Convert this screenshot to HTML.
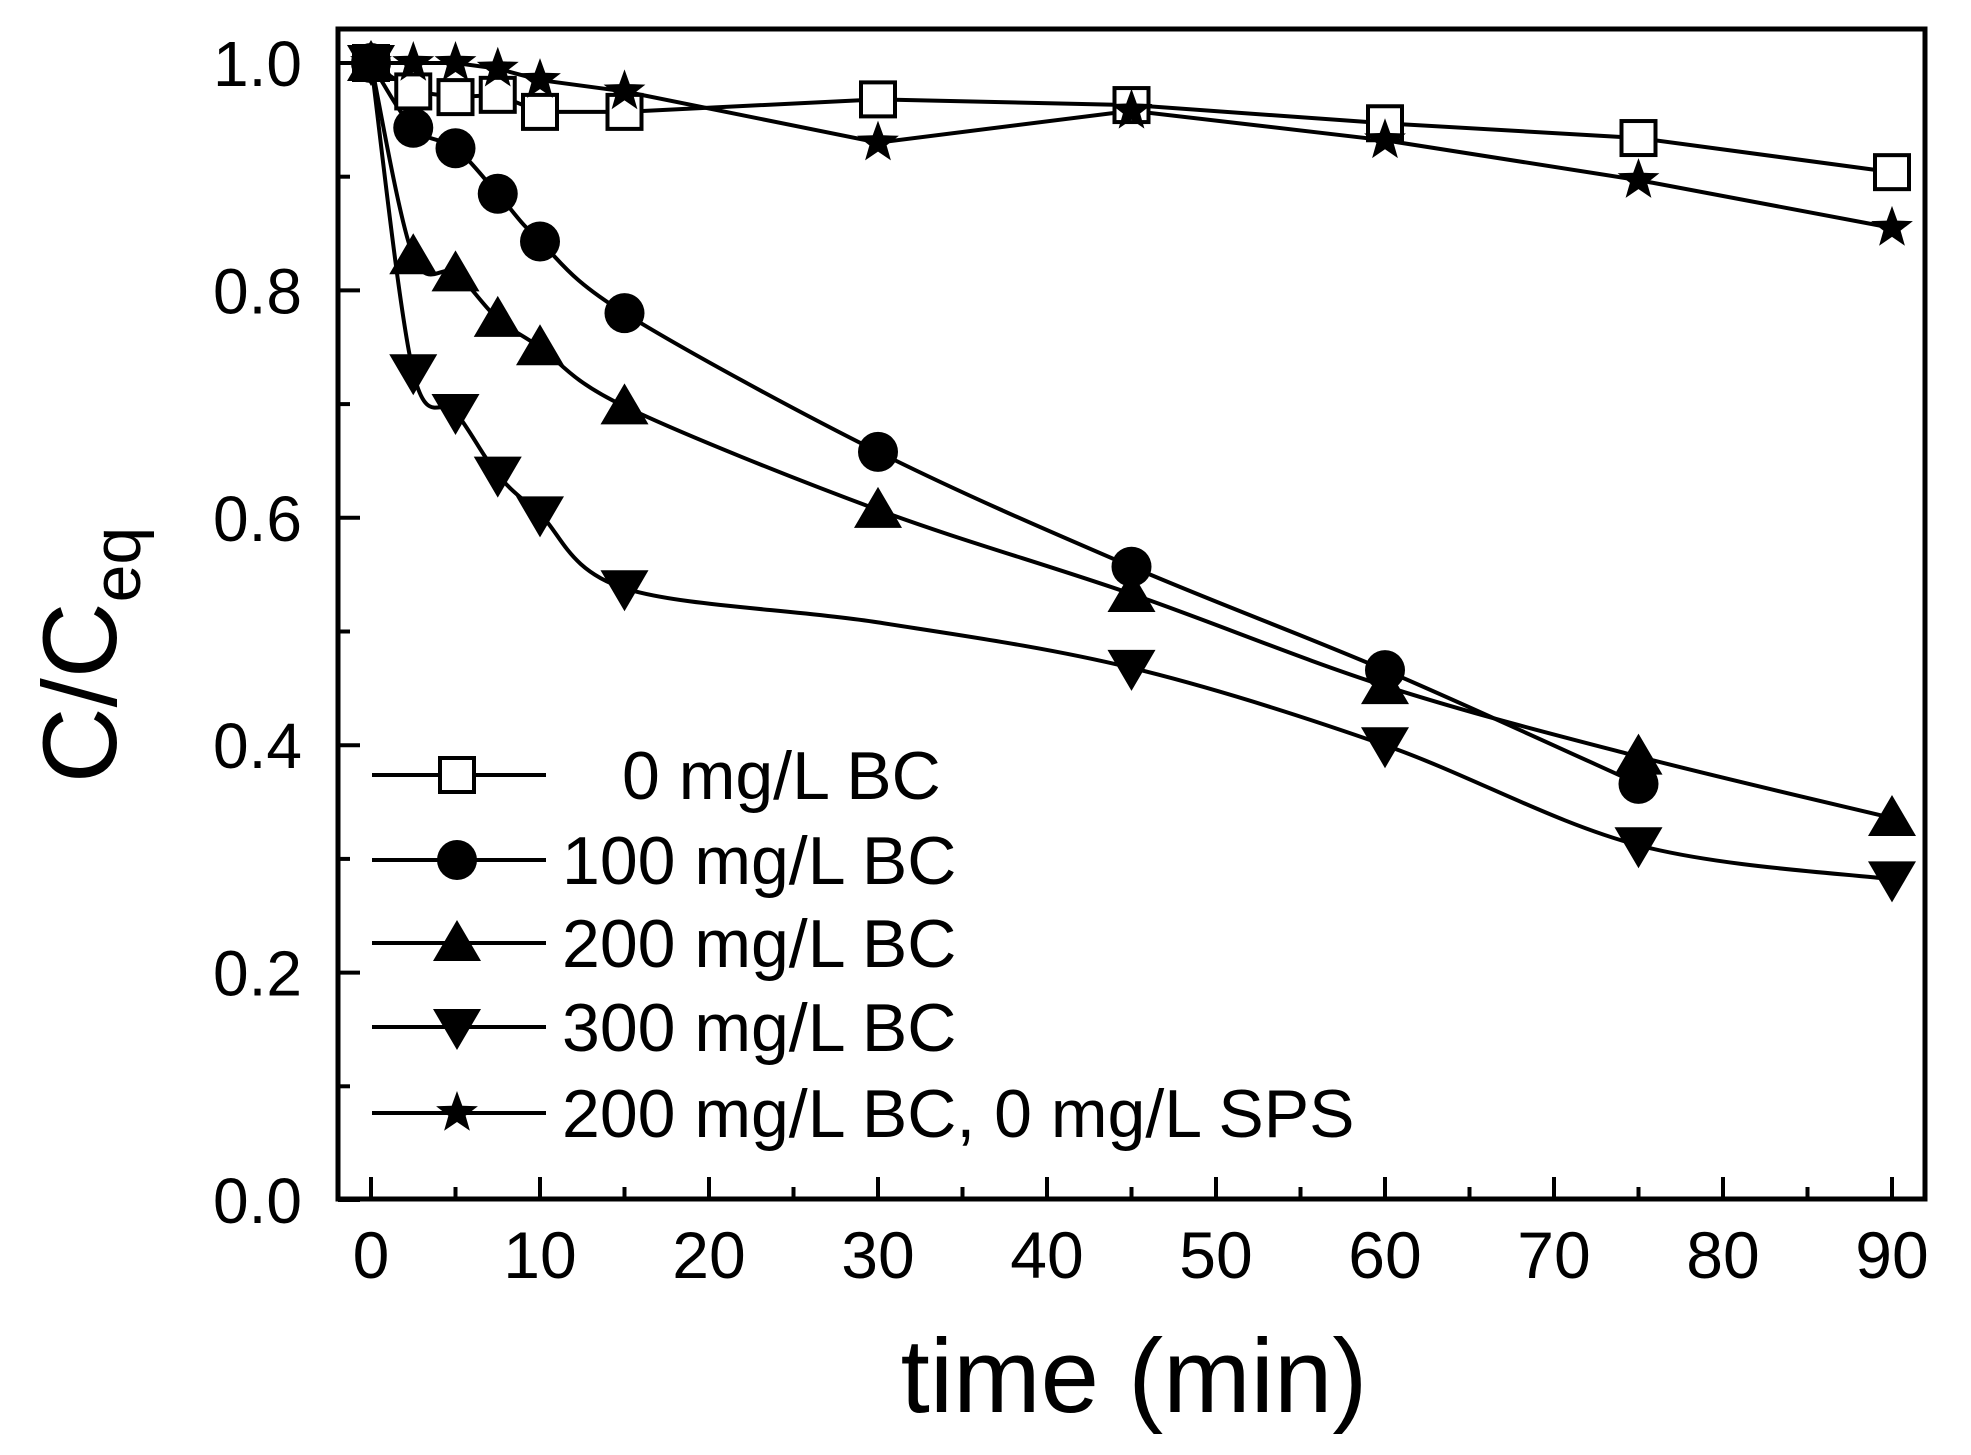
<!DOCTYPE html>
<html><head><meta charset="utf-8"><style>
html,body{margin:0;padding:0;background:#fff;}
svg{display:block;}
text{font-family:"Liberation Sans",sans-serif;fill:#000;}
</style></head><body>
<svg id="s" width="1971" height="1455" xmlns="http://www.w3.org/2000/svg"></svg>
<script>
const S=document.getElementById('s');
const X=t=>371+16.9*t, Y=v=>1200-1137*v;
let h='';
h+='<rect x="338" y="29" width="1587" height="1170" fill="none" stroke="#000" stroke-width="5"/>';
for(let t=0;t<=90;t+=5){const x=X(t),L=t%10==0?22:12;h+=`<line x1="${x}" y1="1199" x2="${x}" y2="${1199-L}" stroke="#000" stroke-width="4"/>`;
 if(t%10==0)h+=`<text x="${x}" y="1278" font-size="66" text-anchor="middle">${t}</text>`;}
for(let i=0;i<=10;i++){const v=i/10,y=Y(v),L=i%2==0?22:12;h+=`<line x1="338" y1="${y}" x2="${338+L}" y2="${y}" stroke="#000" stroke-width="4"/>`;
 if(i%2==0)h+=`<text x="302" y="${y+23}" font-size="64" text-anchor="end">${v.toFixed(1)}</text>`;}
h+='<text x="1134" y="1412" font-size="105" text-anchor="middle">time (min)</text>';
h+='<text transform="translate(116,655) rotate(-90)" font-size="105" text-anchor="middle">C/C<tspan font-size="68" dy="24">eq</tspan></text>';
const T=[0,2.5,5,7.5,10,15,30,45,60,75,90];
const D={
sq:[1,0.975,0.97,0.972,0.957,0.957,0.968,0.963,0.947,0.934,0.904],
ci:[1,0.943,0.925,0.885,0.843,0.78,0.658,0.557,0.466,0.366,null],
up:[1,0.83,0.815,0.775,0.75,0.698,0.607,0.533,0.452,0.39,0.336],
dn:[1,0.728,0.693,0.638,0.603,0.538,null,0.468,0.4,0.312,0.282],
st:[1,1.0,1.0,0.995,0.985,0.975,0.93,0.958,0.932,0.897,0.855]};
function curve(pts,smooth){
 let d=`M${pts[0][0]},${pts[0][1]}`;
 for(let i=0;i<pts.length-1;i++){
  const p0=pts[Math.max(i-1,0)],p1=pts[i],p2=pts[i+1],p3=pts[Math.min(i+2,pts.length-1)];
  if(!smooth){d+=` L${p2[0]},${p2[1]}`;continue;}
  const k=6;
  d+=` C${p1[0]+(p2[0]-p0[0])/k},${p1[1]+(p2[1]-p0[1])/k} ${p2[0]-(p3[0]-p1[0])/k},${p2[1]-(p3[1]-p1[1])/k} ${p2[0]},${p2[1]}`;}
 return d;}
function mk(type,x,y){
 if(type=='sq')return `<rect x="${x-17}" y="${y-17}" width="34" height="34" fill="#fff" stroke="#000" stroke-width="4"/>`;
 if(type=='ci')return `<circle cx="${x}" cy="${y}" r="20" fill="#000"/>`;
 if(type=='up')return `<polygon points="${x},${y-23} ${x+24},${y+18} ${x-24},${y+18}" fill="#000"/>`;
 if(type=='dn')return `<polygon points="${x},${y+23} ${x+24},${y-18} ${x-24},${y-18}" fill="#000"/>`;
 if(type=='st'){let p=[];for(let i=0;i<10;i++){const r=i%2?9:22,a=-Math.PI/2+i*Math.PI/5;p.push((x+r*Math.cos(a)).toFixed(1)+','+(y+r*Math.sin(a)).toFixed(1));}return `<polygon points="${p.join(' ')}" fill="#000"/>`;}
}
const sm={sq:false,ci:true,up:true,dn:true,st:false};
for(const k in D){
 const pts=[];T.forEach((t,i)=>{if(D[k][i]!=null)pts.push([X(t),Y(D[k][i])]);});
 let p=pts;
 if(k=='dn'){p=pts.slice();p.splice(6,0,[X(30),Y(0.508)]);}
 h+=`<path d="${curve(p,sm[k])}" fill="none" stroke="#000" stroke-width="4"/>`;
}
for(const k of ['sq','ci','up','dn','st']){T.forEach((t,i)=>{if(D[k][i]!=null)h+=mk(k,X(t),Y(D[k][i]));});}
const L=[['sq','0 mg/L BC',622],['ci','100 mg/L BC',562],['up','200 mg/L BC',562],['dn','300 mg/L BC',562],['st','200 mg/L BC, 0 mg/L SPS',562]];
const LY=[775,860,943,1027,1113];
L.forEach((e,i)=>{const y=LY[i];h+=`<line x1="372" y1="${y}" x2="546" y2="${y}" stroke="#000" stroke-width="4"/>`+mk(e[0],457,y)+`<text x="${e[2]}" y="${y+24}" font-size="68">${e[1]}</text>`;});
S.innerHTML=h;
</script>
</body></html>
